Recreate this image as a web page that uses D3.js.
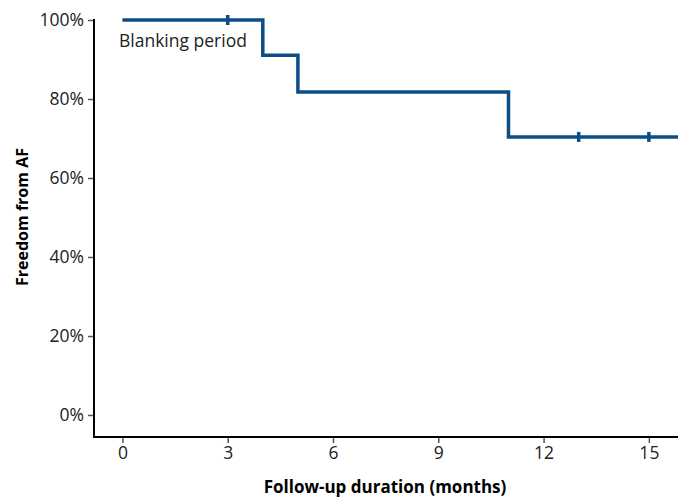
<!DOCTYPE html>
<html>
<head>
<meta charset="utf-8">
<script src="https://cdn.jsdelivr.net/npm/d3@7"></script>
<style>
  body { margin: 0; background: #fff; }
  text { font-family: "Open Sans", Lato, sans-serif; }
</style>
</head>
<body>
<svg id="chart" width="684" height="498"></svg>
<script>
// Kaplan-Meier steps: survival holds from time t onwards
const stepTimes = [0, 4, 5, 11, 15.83];
const stepValues = [1.0, 0.911, 0.818, 0.704, 0.704];
const censorTimes = [3, 13, 15];
const xTicks = [0, 3, 6, 9, 12, 15];
const yTicks = [0, 0.2, 0.4, 0.6, 0.8, 1.0];

const lineColor = '#0b4d89';

const svg = d3.select('#chart');

const x = d3.scaleLinear().domain([-0.81, 15.83]).range([94, 678]);
const y = d3.scaleLinear().domain([0, 1]).range([415, 20]);
const axisY = 437;

// y axis
const yAxis = svg.append('g')
  .attr('transform', 'translate(94,0)')
  .call(d3.axisLeft(y).tickValues(yTicks).tickFormat(d3.format('.0%')).tickSize(6).tickSizeOuter(0));
yAxis.select('.domain').remove();
svg.append('line')
  .attr('x1', 94).attr('x2', 94).attr('y1', 19).attr('y2', axisY + 1)
  .attr('stroke', '#000').attr('stroke-width', 2);

// x axis
const xAxis = svg.append('g')
  .attr('transform', `translate(0,${axisY})`)
  .call(d3.axisBottom(x).tickValues(xTicks).tickSize(6).tickSizeOuter(0));
xAxis.select('.domain').remove();
svg.append('line')
  .attr('x1', 93).attr('x2', 678).attr('y1', axisY).attr('y2', axisY)
  .attr('stroke', '#000').attr('stroke-width', 2);

svg.selectAll('.tick line').attr('stroke', '#555').attr('stroke-width', 1.5);
svg.selectAll('.tick text').attr('fill', '#222').style('font-size', '17.5px');
yAxis.selectAll('.tick text').attr('x', -10);
xAxis.selectAll('.tick text').attr('y', 10);

// axis titles
svg.append('text')
  .attr('x', 385).attr('y', 493)
  .attr('text-anchor', 'middle')
  .style('font-size', '17px').style('font-weight', 'bold')
  .text('Follow-up duration (months)');
svg.append('text')
  .attr('transform', 'translate(28,217) rotate(-90)')
  .attr('text-anchor', 'middle')
  .style('font-size', '16px').style('font-weight', 'bold')
  .text('Freedom from AF');

// step curve
const pts = stepTimes.map((t, i) => [t, stepValues[i]]);
const line = d3.line().x(d => x(d[0])).y(d => y(d[1])).curve(d3.curveStepAfter);
svg.append('path')
  .datum(pts)
  .attr('d', line)
  .attr('fill', 'none')
  .attr('stroke', lineColor)
  .attr('stroke-width', 3.5);

// censor marks
const valueAt = (t) => {
  let v = stepValues[0];
  stepTimes.forEach((s, i) => { if (t >= s) v = stepValues[i]; });
  return v;
};
svg.selectAll('.censor')
  .data(censorTimes)
  .enter()
  .append('line')
  .attr('class', 'censor')
  .attr('x1', d => x(d)).attr('x2', d => x(d))
  .attr('y1', d => y(valueAt(d)) - 5).attr('y2', d => y(valueAt(d)) + 5)
  .attr('stroke', lineColor)
  .attr('stroke-width', 3.5);

svg.append('text')
  .attr('x', 119).attr('y', 47)
  .style('font-size', '17.5px')
  .attr('fill', '#222')
  .text('Blanking period');
</script>
</body>
</html>
